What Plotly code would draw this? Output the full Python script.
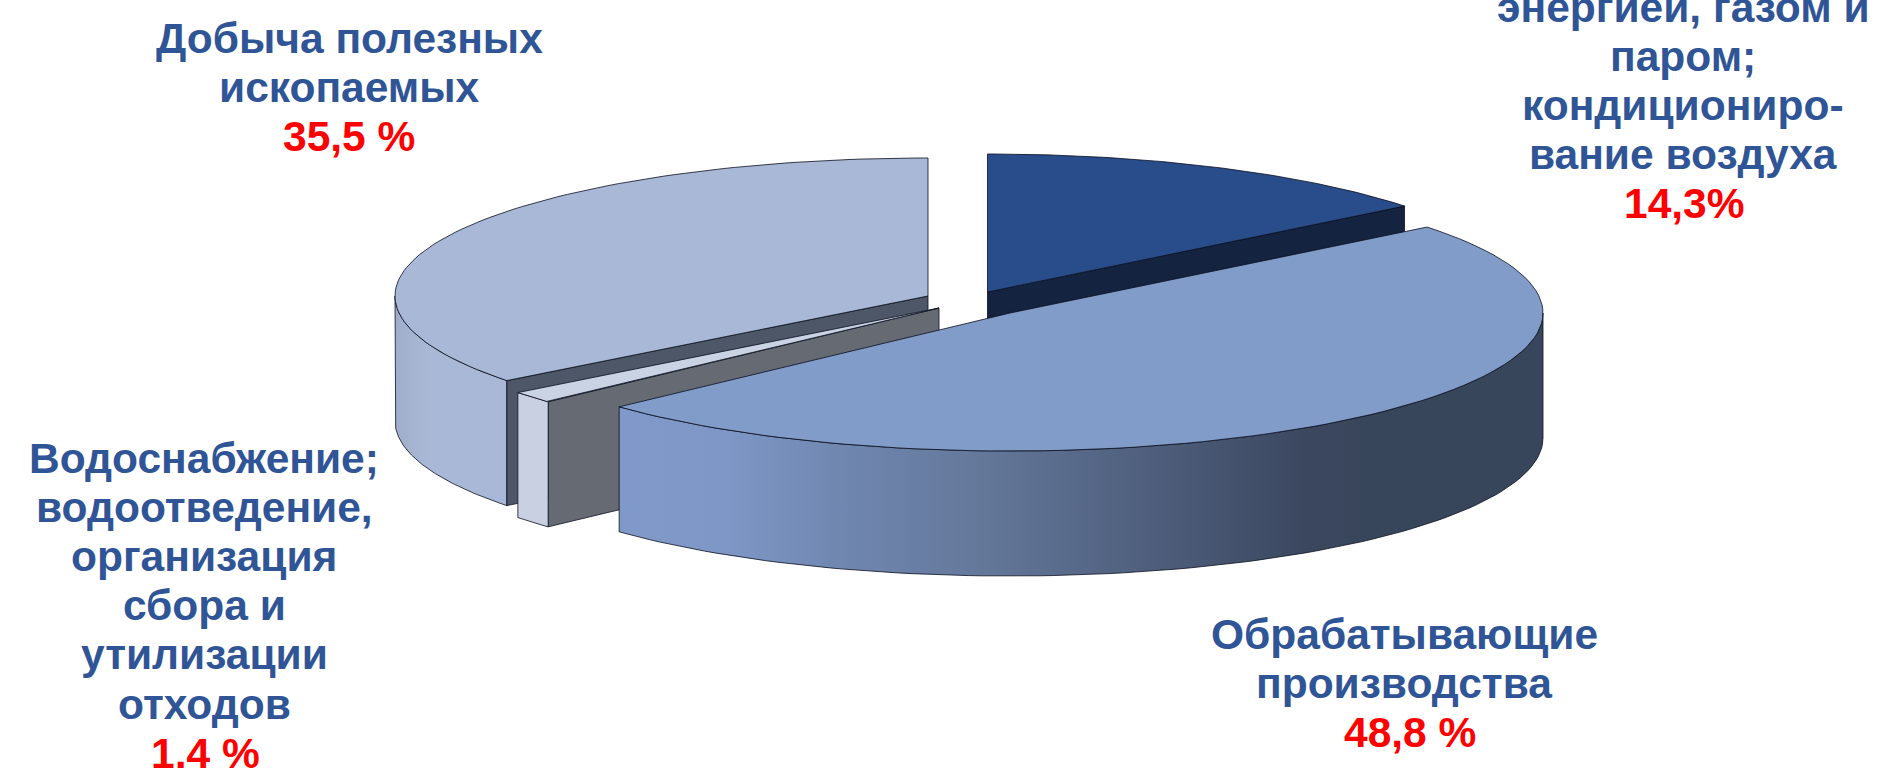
import math
import plotly.graph_objects as go

# --- data -------------------------------------------------------------
categories = ["Электроэнергия", "Обрабатывающие производства", "Водоснабжение", "Добыча полезных ископаемых"]
shares = [14.3, 48.8, 1.4, 35.5]

label_energy = ["энергией, газом и", "паром;", "кондициониро-", "вание воздуха"]
value_energy = "14,3%"
label_manuf = ["Обрабатывающие", "производства"]
value_manuf = "48,8 %"
label_water = ["Водоснабжение;", "водоотведение,", "организация", "сбора и", "утилизации", "отходов"]
value_water = "1,4 %"
label_mining = ["Добыча полезных", "ископаемых"]
value_mining = "35,5 %"

# --- geometry / styling ------------------------------------------------
W, H = 1879, 768
RX, RY, DEPTH = 533, 138, 125
APEX = [(987.5, 292), (1010, 313), (939, 308), (928, 296)]
TOP = ["#294C8A", "#829CC9", "#C9D3E4", "#A9B8D6"]
BLUE = "#2F5597"
RED = "#FF0000"
EDGE = dict(color="rgba(10,15,30,0.8)", width=1)

theta = [0]
for s in shares:
    theta.append(theta[-1] + s / sum(shares) * 360)


def rim(i, a, b, drop=0, n=90):
    cx, cy = APEX[i]
    pts = [a + (b - a) * k / n for k in range(n + 1)]
    return ([cx + RX * math.sin(math.radians(t)) for t in pts],
            [cy - RY * math.cos(math.radians(t)) + drop for t in pts])


def poly(xs, ys, color=None, name="", gradient=None):
    kw = dict(fillgradient=gradient) if gradient else dict(fillcolor=color)
    return go.Scatter(x=xs + xs[:1], y=ys + ys[:1], mode="lines", fill="toself",
                      line=EDGE, hoverinfo="text", text=name, showlegend=False, **kw)


def top(i):
    x, y = rim(i, theta[i], theta[i + 1])
    return poly([APEX[i][0]] + x, [APEX[i][1]] + y, TOP[i], categories[i])


def wall(i, a, b, color=None, gradient=None):
    x, y = rim(i, a, b)
    xb, yb = rim(i, a, b, DEPTH)
    return poly(x + xb[::-1], y + yb[::-1], color, categories[i], gradient)


def face(i, t, color):
    x, y = rim(i, t, t, n=1)
    cx, cy = APEX[i]
    return poly([cx, x[0], x[0], cx], [cy, y[0], y[0] + DEPTH, cy + DEPTH], color, categories[i])


fig = go.Figure()

# dark-blue slice (back)
fig.add_trace(face(0, theta[1], "#14233F"))
fig.add_trace(top(0))

# mining slice
fig.add_trace(wall(3, theta[3], 270, gradient=dict(
    type="horizontal", start=396, stop=510,
    colorscale=[[0, "#9FAFCB"], [0.3, "#A9B8D6"], [1, "#A9B8D6"]])))
fig.add_trace(face(3, theta[3], "#4E5767"))
fig.add_trace(top(3))

# water slice
fig.add_trace(face(2, theta[2], "#656A73"))
fig.add_trace(wall(2, theta[2], theta[3], "#C9D0E2"))
fig.add_trace(top(2))

# manufacturing slice
fig.add_trace(wall(1, 90, theta[2], gradient=dict(
    type="horizontal", start=618, stop=1543,
    colorscale=[[0, "#7F99C9"], [0.114, "#7E97C6"], [0.246, "#6F86AF"],
                [0.39, "#64789A"], [0.58, "#4E5E7C"], [0.746, "#3B475F"], [0.81, "#38465B"], [1, "#38465B"]])))
fig.add_trace(top(1))

# --- labels ------------------------------------------------------------
STEP = 49.2
blocks = [
    (349, 38, label_mining, value_mining, 349),
    (1683, 7, label_energy, value_energy, 1684),
    (204, 458, label_water, value_water, 205),
    (1404, 634, label_manuf, value_manuf, 1410),
]
annotations = []
for x, y0, lines, value, vx in blocks:
    rows = [(x, ln, BLUE) for ln in lines] + [(vx, value, RED)]
    for k, (px, txt, col) in enumerate(rows):
        annotations.append(dict(x=px, y=y0 + k * STEP, text=txt, showarrow=False,
                                xanchor="center", yanchor="middle", xref="x", yref="y",
                                font=dict(family="Liberation Sans", size=42.5, color=col, weight="bold")))

fig.update_layout(
    width=W, height=H, margin=dict(l=0, r=0, t=0, b=0),
    paper_bgcolor="white", plot_bgcolor="white", showlegend=False,
    xaxis=dict(range=[0, W], visible=False, fixedrange=True),
    yaxis=dict(range=[H, 0], visible=False, fixedrange=True),
    annotations=annotations,
)

fig.write_html("out.html", config=dict(displayModeBar=False),
               post_script="document.body.style.margin='0';document.body.style.overflow='hidden';")
